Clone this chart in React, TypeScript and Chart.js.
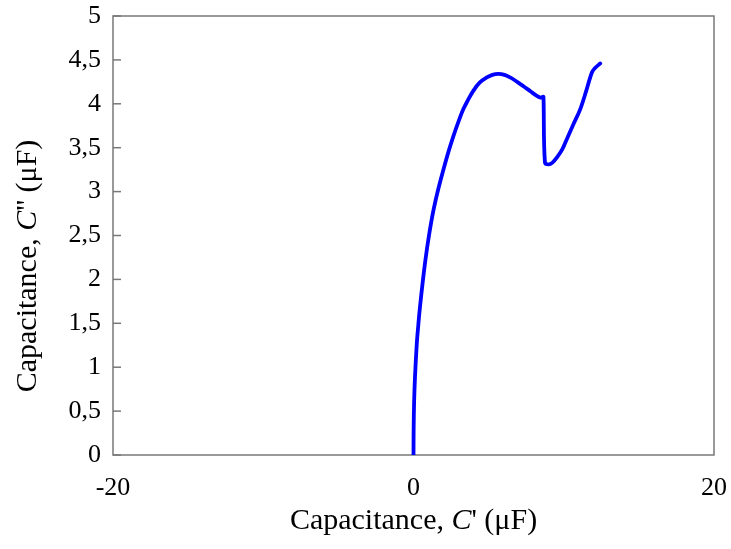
import React, { useEffect, useRef } from "react";
import { Chart, registerables } from "chart.js";

Chart.register(...registerables);

// C' (µF) — real part
const cReal = [0, 0.01, 0.04, 0.1, 0.22, 0.32, 0.41, 0.6, 0.8, 1.03, 1.32, 1.65, 1.99, 2.32, 2.65, 3.0, 3.32, 3.65, 3.99, 4.4, 4.88, 5.25, 5.65, 6.05, 6.43, 6.9, 7.32, 7.8, 8.21, 8.45, 8.61, 8.65, 8.75, 8.99, 9.25, 9.55, 9.9, 10.21, 10.65, 11.1, 11.5, 11.88, 12.1, 12.43];
// C'' (µF) — imaginary part
const cImag = [0, 0.3, 0.6, 0.89, 1.27, 1.48, 1.65, 1.95, 2.23, 2.5, 2.78, 3.03, 3.25, 3.45, 3.63, 3.8, 3.94, 4.05, 4.15, 4.24, 4.3, 4.33, 4.34, 4.33, 4.3, 4.25, 4.2, 4.14, 4.09, 4.07, 4.08, 4.08, 3.33, 3.31, 3.33, 3.39, 3.48, 3.6, 3.77, 3.94, 4.15, 4.36, 4.41, 4.46];

const xTickValues = [-20, 0, 20];
const yTickValues = [0, 0.5, 1, 1.5, 2, 2.5, 3, 3.5, 4, 4.5, 5];

const xTitleParts = [
  { text: "Capacitance, ", italic: false },
  { text: "C", italic: true },
  { text: "' (\u03bcF)", italic: false },
];
const yTitleParts = [
  { text: "Capacitance, ", italic: false },
  { text: "C", italic: true },
  { text: "'' (\u03bcF)", italic: false },
];

const FONT = "'Liberation Serif', 'Times New Roman', serif";

function drawRich(ctx: CanvasRenderingContext2D, parts: { text: string; italic: boolean }[], size: number) {
  const fontFor = (it: boolean) => `${it ? "italic " : ""}${size}px ${FONT}`;
  let total = 0;
  const widths = parts.map((p) => {
    ctx.font = fontFor(p.italic);
    const w = ctx.measureText(p.text).width;
    total += w;
    return w;
  });
  let x = -total / 2;
  ctx.textAlign = "left";
  ctx.textBaseline = "middle";
  ctx.fillStyle = "#000";
  parts.forEach((p, i) => {
    ctx.font = fontFor(p.italic);
    ctx.fillText(p.text, x, 0);
    x += widths[i];
  });
}

const framePlugin = {
  id: "frame",
  beforeDatasetsDraw(chart: any) {
    const { ctx, chartArea: a, scales } = chart;
    ctx.save();
    ctx.strokeStyle = "#787878";
    ctx.lineWidth = 1.5;
    ctx.strokeRect(a.left, a.top, a.right - a.left, a.bottom - a.top);
    const y = scales.y;
    y.ticks.forEach((_t: any, i: number) => {
      const py = y.getPixelForTick(i);
      ctx.beginPath();
      ctx.moveTo(a.left, py);
      ctx.lineTo(a.left + 8, py);
      ctx.stroke();
    });
    ctx.restore();
  },
  afterDraw(chart: any) {
    const { ctx, chartArea: a } = chart;
    ctx.save();
    ctx.translate((a.left + a.right) / 2, 521);
    drawRich(ctx, xTitleParts, 30);
    ctx.restore();
    ctx.save();
    ctx.translate(28, 266);
    ctx.rotate(-Math.PI / 2);
    drawRich(ctx, yTitleParts, 30);
    ctx.restore();
  },
};

export default function App() {
  const ref = useRef<HTMLCanvasElement | null>(null);
  useEffect(() => {
    document.body.style.margin = "0";
    const canvas = ref.current!;
    const points = cReal.map((x, i) => ({ x, y: cImag[i] }));
    const chart = new Chart(canvas, {
      type: "scatter",
      data: {
        datasets: [
          {
            data: points,
            showLine: true,
            borderColor: "#0000ff",
            borderWidth: 3.8,
            borderJoinStyle: "round",
            borderCapStyle: "round",
            pointRadius: 0,
            pointHoverRadius: 0,
            fill: false,
            tension: 0.35,
          } as any,
        ],
      },
      options: {
        animation: false,
        responsive: false,
        maintainAspectRatio: false,
        events: [],
        layout: { padding: { top: 16, right: 17, left: 0, bottom: 0 } },
        plugins: { legend: { display: false }, tooltip: { enabled: false }, title: { display: false } },
        scales: {
          x: {
            type: "linear",
            min: -20,
            max: 20,
            afterBuildTicks: (s: any) => {
              s.ticks = xTickValues.map((v) => ({ value: v }));
            },
            afterFit: (s: any) => {
              s.height = 94;
              s.paddingLeft = 0;
              s.paddingRight = 0;
            },
            grid: { display: false, drawTicks: false },
            border: { display: false },
            ticks: {
              color: "#000",
              font: { family: FONT, size: 26 },
              padding: 18,
              maxRotation: 0,
              autoSkip: false,
              callback: (v: any) => String(v),
            },
          },
          y: {
            type: "linear",
            min: 0,
            max: 5,
            afterBuildTicks: (s: any) => {
              s.ticks = yTickValues.map((v) => ({ value: v }));
            },
            afterFit: (s: any) => {
              s.width = 113;
              s.paddingTop = 0;
              s.paddingBottom = 0;
            },
            grid: { display: false, drawTicks: false },
            border: { display: false },
            ticks: {
              color: "#000",
              font: { family: FONT, size: 26 },
              padding: 12,
              autoSkip: false,
              callback: (v: any) => String(v).replace(".", ","),
            },
          },
        },
      },
      plugins: [framePlugin],
    });
    return () => chart.destroy();
  }, []);
  return (
    <div style={{ width: 731, height: 549 }}>
      <canvas ref={ref} width={731} height={549} style={{ display: "block", width: 731, height: 549 }} />
    </div>
  );
}
